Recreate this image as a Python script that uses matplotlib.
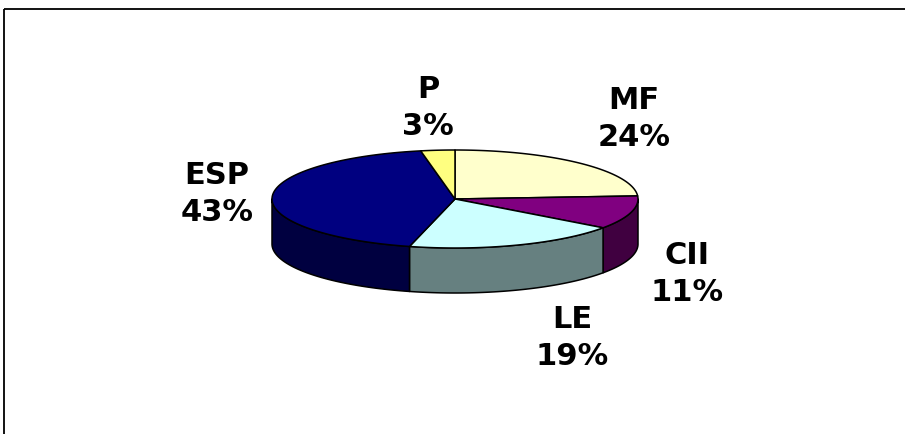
import numpy as np
import matplotlib
matplotlib.use("Agg")
import matplotlib.pyplot as plt
from matplotlib.patches import Polygon, Rectangle

# Data
categories = ["MF", "CII", "LE", "ESP", "P"]
shares = [24, 11, 19, 43, 3]
top_colors = ["#FFFFCC", "#800080", "#CCFFFF", "#000080", "#FFFF80"]
side_colors = ["#808066", "#400040", "#668080", "#000040", "#808040"]

# Layout (pixels, y grows downward)
W, H = 905, 434
cx, cy = 455, 199
rx, ry = 183, 49
depth = 45
label_pos = {"MF": (634, 119), "CII": (687, 274), "LE": (572, 338),
             "ESP": (217, 194), "P": (428, 108)}

fig = plt.figure(figsize=(W / 100, H / 100), dpi=100)
fig.patch.set_facecolor("white")
ax = fig.add_axes([0, 0, 1, 1])
ax.set_xlim(0, W)
ax.set_ylim(H, 0)
ax.axis("off")

# Chart frame: only its left and top edges fall inside the canvas
ax.add_patch(Rectangle((3.5, 9), W + 50, H + 50, facecolor="none",
                       edgecolor="black", lw=1.3, clip_on=True))


def pt(theta_deg, dy=0.0):
    t = np.radians(theta_deg)
    return cx + rx * np.cos(t), cy - ry * np.sin(t) + dy


# Slice angles: start at 12 o'clock, run clockwise
total = float(sum(shares))
bounds = []
start = 90.0
for v in shares:
    end = start - 360.0 * v / total
    bounds.append((start, end))
    start = end

lw = 1.1

# Side walls (only the front half of the rim is visible)
for (s, e), sc in zip(bounds, side_colors):
    hi, lo = s, e
    segs = []
    for shift in (0, -360, 360):
        a, b = lo + shift, hi + shift
        a2, b2 = max(a, -180), min(b, 0)
        if b2 > a2:
            segs.append((a2, b2))
    for a2, b2 in segs:
        ts = np.linspace(b2, a2, 80)
        top = [pt(t) for t in ts]
        bot = [pt(t, depth) for t in ts[::-1]]
        ax.add_patch(Polygon(top + bot, closed=True, facecolor=sc,
                             edgecolor="black", lw=lw, joinstyle="round"))

# Top faces
for (s, e), tc in zip(bounds, top_colors):
    ts = np.linspace(s, e, 120)
    pts = [(cx, cy)] + [pt(t) for t in ts]
    ax.add_patch(Polygon(pts, closed=True, facecolor=tc,
                         edgecolor="black", lw=lw, joinstyle="round"))

# Labels
for name, v in zip(categories, shares):
    x, y = label_pos[name]
    ax.text(x, y, f"{name}\n{v}%", ha="center", va="center",
            fontsize=22, fontweight="bold", family="DejaVu Sans",
            linespacing=1.32, color="black")

fig.savefig("out.png", dpi=100)
